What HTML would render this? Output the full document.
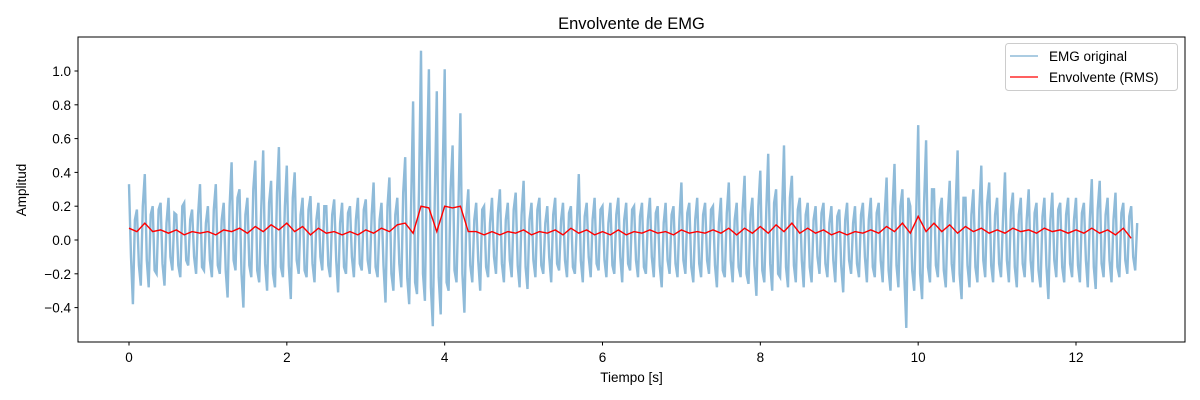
<!DOCTYPE html>
<html><head><meta charset="utf-8"><style>
body{margin:0;background:#fff;}
svg{display:block;font-family:"Liberation Sans","DejaVu Sans",sans-serif;}
</style></head><body>
<svg id="chart" width="1200" height="400">
<text x="631.5" y="29" font-size="16.5" text-anchor="middle">Envolvente de EMG</text>
<g id="plot"></g>
<rect x="78" y="37" width="1107" height="305" fill="none" stroke="#000" stroke-width="1"/>
<g id="xticks"></g>
<g id="yticks"></g>
<text x="631.5" y="382" font-size="13.5" text-anchor="middle">Tiempo [s]</text>
<text x="26" y="190" font-size="13.5" text-anchor="middle" transform="rotate(-90 26 190)">Amplitud</text>
<g>
<rect x="1005.5" y="43.5" width="172" height="47" rx="3" fill="#fff" fill-opacity="0.8" stroke="#ccc"/>
<g><line x1="1010" y1="56" x2="1038" y2="56" stroke="#8fbbd9" stroke-width="1.5"/><text x="1049" y="61" font-size="13.5">EMG original</text></g>
<g><line x1="1010" y1="77" x2="1038" y2="77" stroke="#ff0000" stroke-width="1.3"/><text x="1049" y="82" font-size="13.5">Envolvente (RMS)</text></g>
</g>
</svg>
<script>
const emgHighs=[.33,.18,.39,.20,.22,.25,.15,.22,.18,.33,
.20,.33,.22,.46,.30,.25,.47,.53,.35,.55,
.44,.40,.25,.26,.22,.20,.24,.22,.20,.25,
.24,.34,.22,.37,.25,.49,.82,1.12,1.01,.88,
1.01,.56,.75,.30,.22,.20,.25,.30,.22,.28,
.35,.22,.25,.20,.25,.22,.20,.39,.22,.25,
.20,.22,.25,.22,.20,.22,.25,.20,.22,.20,
.34,.22,.25,.22,.20,.25,.34,.22,.38,.25,
.41,.51,.30,.56,.38,.25,.22,.20,.22,.20,
.18,.22,.20,.22,.25,.22,.37,.45,.30,.20,
.68,.59,.30,.25,.35,.53,.25,.30,.44,.34,
.25,.40,.28,.25,.30,.22,.25,.28,.22,.25,
.25,.22,.36,.35,.25,.28,.22,.20];
const emgLows=[-.38,-.27,-.28,-.20,-.27,-.18,-.22,-.15,-.20,-.18,
-.22,-.20,-.34,-.18,-.40,-.22,-.25,-.30,-.28,-.22,
-.35,-.20,-.22,-.25,-.18,-.22,-.31,-.20,-.22,-.18,
-.20,-.22,-.37,-.30,-.28,-.38,-.32,-.36,-.51,-.44,
-.30,-.25,-.43,-.25,-.30,-.22,-.20,-.25,-.22,-.28,
-.29,-.22,-.20,-.25,-.18,-.22,-.20,-.25,-.22,-.18,
-.22,-.20,-.25,-.18,-.22,-.20,-.22,-.28,-.20,-.22,
-.20,-.25,-.22,-.20,-.28,-.22,-.25,-.22,-.26,-.33,
-.25,-.30,-.22,-.28,-.25,-.28,-.25,-.20,-.22,-.25,
-.31,-.20,-.22,-.25,-.22,-.25,-.30,-.28,-.52,-.30,
-.35,-.25,-.22,-.28,-.25,-.35,-.28,-.25,-.22,-.25,
-.22,-.25,-.28,-.22,-.25,-.28,-.35,-.22,-.25,-.22,
-.25,-.28,-.29,-.22,-.25,-.22,-.20,-.18];
const emgMidHighs=[.12,.20,.15,.18,.10,.16,.20,.12,.15,.10,
.18,.12,.20,.25,.15,.30,.18,.22,.28,.20,
.25,.15,.18,.12,.20,.15,.10,.16,.12,.18,
.15,.12,.20,.15,.28,.20,.30,.45,.25,.40,
.30,.22,.15,.12,.18,.10,.16,.12,.18,.15,
.12,.18,.10,.15,.12,.16,.10,.14,.12,.18,
.10,.15,.12,.18,.14,.12,.16,.10,.15,.12,
.16,.12,.15,.18,.10,.16,.12,.18,.15,.20,
.18,.22,.15,.25,.18,.15,.12,.16,.10,.14,
.12,.10,.15,.12,.16,.14,.18,.20,.25,.15,
.22,.30,.18,.15,.20,.25,.15,.18,.22,.15,
.12,.18,.15,.12,.16,.14,.12,.18,.15,.12,
.16,.12,.18,.15,.12,.16,.14,.10];
const emgMidLows=[-.10,-.15,-.12,-.18,-.14,-.10,-.15,-.12,-.10,-.16,
-.12,-.15,-.18,-.12,-.20,-.15,-.18,-.14,-.20,-.16,
-.15,-.12,-.18,-.14,-.10,-.15,-.12,-.16,-.10,-.14,
-.12,-.16,-.15,-.20,-.14,-.22,-.25,-.20,-.28,-.22,
-.25,-.18,-.20,-.15,-.12,-.16,-.10,-.14,-.12,-.15,
-.16,-.12,-.15,-.10,-.14,-.12,-.16,-.12,-.10,-.14,
-.12,-.15,-.10,-.14,-.12,-.16,-.10,-.15,-.12,-.14,
-.12,-.16,-.14,-.12,-.15,-.18,-.12,-.16,-.20,-.15,
-.18,-.14,-.20,-.16,-.15,-.12,-.16,-.10,-.14,-.12,
-.15,-.12,-.14,-.10,-.16,-.12,-.18,-.15,-.22,-.18,
-.20,-.16,-.15,-.18,-.14,-.20,-.15,-.16,-.12,-.15,
-.14,-.12,-.16,-.14,-.12,-.18,-.15,-.12,-.16,-.14,
-.15,-.12,-.16,-.14,-.12,-.16,-.12,-.10];
const envelope=[.07,.05,.10,.05,.06,.04,.06,.03,.05,.04,
.05,.03,.06,.05,.07,.04,.08,.05,.09,.06,
.10,.05,.08,.03,.07,.04,.05,.03,.05,.03,
.06,.04,.07,.05,.09,.10,.04,.20,.19,.05,
.20,.19,.20,.05,.05,.03,.05,.03,.05,.04,
.06,.03,.05,.04,.06,.03,.07,.04,.06,.03,
.05,.03,.06,.03,.05,.04,.06,.04,.05,.03,
.06,.04,.05,.04,.06,.04,.07,.03,.07,.04,
.08,.04,.09,.05,.10,.04,.07,.04,.06,.03,
.05,.03,.05,.04,.06,.04,.08,.05,.10,.04,
.14,.05,.10,.05,.09,.04,.08,.05,.07,.04,
.06,.04,.07,.05,.06,.04,.07,.05,.06,.04,
.06,.04,.07,.04,.06,.03,.07,.01];
const xTickLabels=["0","2","4","6","8","10","12"];
const xTickValues=[0,2,4,6,8,10,12];
const yTickValues=[-0.4,-0.2,0.0,0.2,0.4,0.6,0.8,1.0];
const yTickLabels=["\u22120.4","\u22120.2","0.0","0.2","0.4","0.6","0.8","1.0"];
const dt=0.1;

const NS="http://www.w3.org/2000/svg";
function xs(t){return 129+t*(1076-129)/12;}
function ys(v){return 240-v*169;}
const plot=document.getElementById('plot');

let pts=[];
for(let i=0;i<emgHighs.length;i++){
  pts.push(xs(i*dt).toFixed(1)+","+ys(emgHighs[i]).toFixed(1));
  pts.push(xs(i*dt+dt*0.25).toFixed(1)+","+ys(emgMidLows[i]).toFixed(1));
  pts.push(xs(i*dt+dt*0.5).toFixed(1)+","+ys(emgLows[i]).toFixed(1));
  pts.push(xs(i*dt+dt*0.75).toFixed(1)+","+ys(emgMidHighs[i]).toFixed(1));
}
const emg=document.createElementNS(NS,'polyline');
emg.setAttribute('points',pts.join(' '));
emg.setAttribute('fill','none');emg.setAttribute('stroke','#8fbbd9');emg.setAttribute('stroke-width','2.4');


plot.appendChild(emg);

let ep=[];
for(let i=0;i<envelope.length;i++){ep.push(xs(i*dt).toFixed(1)+","+ys(envelope[i]).toFixed(1));}
const env=document.createElementNS(NS,'polyline');
env.setAttribute('points',ep.join(' '));
env.setAttribute('fill','none');env.setAttribute('stroke','#ff0000');env.setAttribute('stroke-width','1.4');


plot.appendChild(env);

const xg=document.getElementById('xticks');
xTickValues.forEach((v,i)=>{
  const x=xs(v);
  const l=document.createElementNS(NS,'line');
  l.setAttribute('x1',x);l.setAttribute('x2',x);l.setAttribute('y1',342);l.setAttribute('y2',345.5);l.setAttribute('stroke','#000');
  
  
  xg.appendChild(l);
  const t=document.createElementNS(NS,'text');
  t.setAttribute('x',x);t.setAttribute('y',362);t.setAttribute('font-size','13.5');t.setAttribute('text-anchor','middle');
  t.textContent=xTickLabels[i];
  
  
  xg.appendChild(t);
});
const yg=document.getElementById('yticks');
yTickValues.forEach((v,i)=>{
  const y=ys(v);
  const l=document.createElementNS(NS,'line');
  l.setAttribute('x1',74.5);l.setAttribute('x2',78);l.setAttribute('y1',y);l.setAttribute('y2',y);l.setAttribute('stroke','#000');
  
  
  yg.appendChild(l);
  const t=document.createElementNS(NS,'text');
  t.setAttribute('x',71);t.setAttribute('y',y+5);t.setAttribute('font-size','13.5');t.setAttribute('text-anchor','end');
  t.textContent=yTickLabels[i];
  
  
  yg.appendChild(t);
});
</script>
</body></html>
